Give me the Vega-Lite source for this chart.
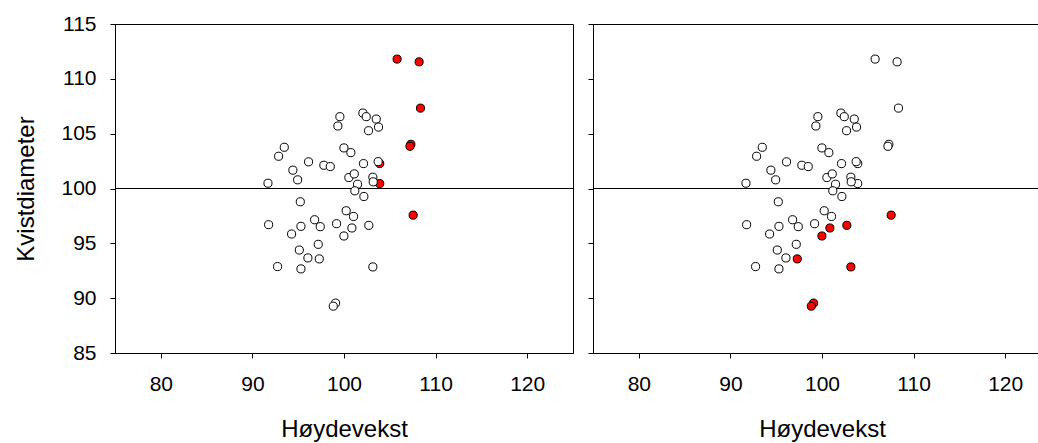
{
  "$schema": "https://vega.github.io/schema/vega-lite/v6.json",
  "padding": {"left": 14, "top": 12, "right": 0, "bottom": 0},
  "autosize": {"type": "pad"},
  "background": "white",
  "config": {
    "view": {"stroke": "black", "strokeWidth": 1},
    "axis": {
      "domainColor": "black", "tickColor": "black", "labelColor": "black", "titleColor": "black",
      "labelFont": "Liberation Sans", "titleFont": "Liberation Sans",
      "labelFontSize": 21, "titleFontSize": 24, "titleFontWeight": "normal",
      "grid": false, "tickSize": 5, "domainWidth": 1, "tickWidth": 1
    },
    "axisX": {"labelPadding": 15, "titlePadding": 23},
    "axisY": {"labelPadding": 14, "titlePadding": 22}
  },
  "data": {"values": [
    {"x": 105.8, "y": 111.8, "a": "r", "b": "n"},
    {"x": 108.2, "y": 111.55, "a": "r", "b": "n"},
    {"x": 108.35, "y": 107.33, "a": "r", "b": "n"},
    {"x": 107.3, "y": 104.03, "a": "r", "b": "n"},
    {"x": 107.2, "y": 103.85, "a": "r", "b": "n"},
    {"x": 103.9, "y": 102.27, "a": "r", "b": "n"},
    {"x": 103.9, "y": 100.45, "a": "r", "b": "n"},
    {"x": 107.55, "y": 97.57, "a": "r", "b": "r"},
    {"x": 99.55, "y": 106.55, "a": "n", "b": "n"},
    {"x": 99.33, "y": 105.7, "a": "n", "b": "n"},
    {"x": 102.06, "y": 106.88, "a": "n", "b": "n"},
    {"x": 102.43, "y": 106.55, "a": "n", "b": "n"},
    {"x": 103.52, "y": 106.33, "a": "n", "b": "n"},
    {"x": 103.77, "y": 105.6, "a": "n", "b": "n"},
    {"x": 102.68, "y": 105.27, "a": "n", "b": "n"},
    {"x": 93.48, "y": 103.76, "a": "n", "b": "n"},
    {"x": 92.86, "y": 102.94, "a": "n", "b": "n"},
    {"x": 99.99, "y": 103.7, "a": "n", "b": "n"},
    {"x": 100.75, "y": 103.27, "a": "n", "b": "n"},
    {"x": 96.13, "y": 102.43, "a": "n", "b": "n"},
    {"x": 97.8, "y": 102.12, "a": "n", "b": "n"},
    {"x": 98.5, "y": 102.0, "a": "n", "b": "n"},
    {"x": 102.13, "y": 102.27, "a": "n", "b": "n"},
    {"x": 103.73, "y": 102.45, "a": "n", "b": "n"},
    {"x": 94.42, "y": 101.67, "a": "n", "b": "n"},
    {"x": 94.94, "y": 100.79, "a": "n", "b": "n"},
    {"x": 91.7, "y": 100.48, "a": "n", "b": "n"},
    {"x": 100.53, "y": 101.0, "a": "n", "b": "n"},
    {"x": 101.12, "y": 101.33, "a": "n", "b": "n"},
    {"x": 101.48, "y": 100.39, "a": "n", "b": "n"},
    {"x": 103.15, "y": 101.03, "a": "n", "b": "n"},
    {"x": 103.19, "y": 100.61, "a": "n", "b": "n"},
    {"x": 101.18, "y": 99.79, "a": "n", "b": "n"},
    {"x": 102.17, "y": 99.27, "a": "n", "b": "n"},
    {"x": 95.23, "y": 98.79, "a": "n", "b": "n"},
    {"x": 100.24, "y": 97.97, "a": "n", "b": "n"},
    {"x": 101.04, "y": 97.45, "a": "n", "b": "n"},
    {"x": 96.79, "y": 97.15, "a": "n", "b": "n"},
    {"x": 91.77, "y": 96.7, "a": "n", "b": "n"},
    {"x": 95.3, "y": 96.55, "a": "n", "b": "n"},
    {"x": 97.41, "y": 96.52, "a": "n", "b": "n"},
    {"x": 99.19, "y": 96.79, "a": "n", "b": "n"},
    {"x": 102.71, "y": 96.64, "a": "n", "b": "r"},
    {"x": 100.86, "y": 96.4, "a": "n", "b": "r"},
    {"x": 94.28, "y": 95.85, "a": "n", "b": "n"},
    {"x": 99.99, "y": 95.67, "a": "n", "b": "r"},
    {"x": 97.19, "y": 94.91, "a": "n", "b": "n"},
    {"x": 95.12, "y": 94.39, "a": "n", "b": "n"},
    {"x": 96.06, "y": 93.67, "a": "n", "b": "n"},
    {"x": 97.3, "y": 93.58, "a": "n", "b": "r"},
    {"x": 92.75, "y": 92.88, "a": "n", "b": "n"},
    {"x": 95.3, "y": 92.67, "a": "n", "b": "n"},
    {"x": 103.15, "y": 92.85, "a": "n", "b": "r"},
    {"x": 99.08, "y": 89.55, "a": "n", "b": "r"},
    {"x": 98.83, "y": 89.27, "a": "n", "b": "r"}
  ]},
  "spacing": 13,
  "hconcat": [
    {
      "width": 458, "height": 329,
      "layer": [
        {
          "mark": {"type": "rule", "color": "black", "strokeWidth": 1},
          "encoding": {"y": {"datum": 100, "type": "quantitative", "scale": {"domain": [85, 115], "nice": false, "zero": false}, "axis": {"title": "Kvistdiameter", "values": [85, 90, 95, 100, 105, 110, 115]}}}
        },
        {
          "mark": {"type": "point", "shape": "circle", "filled": true, "size": 66, "stroke": "black", "strokeWidth": 1, "opacity": 1},
          "encoding": {
            "x": {"field": "x", "type": "quantitative", "scale": {"domain": [75, 125], "nice": false, "zero": false}, "axis": {"title": "Høydevekst", "values": [80, 90, 100, 110, 120]}},
            "y": {"field": "y", "type": "quantitative", "scale": {"domain": [85, 115], "nice": false, "zero": false}, "axis": {"title": "Kvistdiameter", "values": [85, 90, 95, 100, 105, 110, 115]}},
            "fill": {"field": "a", "type": "nominal", "scale": {"domain": ["n", "r"], "range": ["white", "#ff0000"]}, "legend": null}
          }
        }
      ]
    },
    {
      "width": 458, "height": 329,
      "layer": [
        {
          "mark": {"type": "rule", "color": "black", "strokeWidth": 1},
          "encoding": {"y": {"datum": 100, "type": "quantitative", "scale": {"domain": [85, 115], "nice": false, "zero": false}, "axis": {"title": null, "labels": false, "values": [85, 90, 95, 100, 105, 110, 115]}}}
        },
        {
          "mark": {"type": "point", "shape": "circle", "filled": true, "size": 66, "stroke": "black", "strokeWidth": 1, "opacity": 1},
          "encoding": {
            "x": {"field": "x", "type": "quantitative", "scale": {"domain": [75, 125], "nice": false, "zero": false}, "axis": {"title": "Høydevekst", "values": [80, 90, 100, 110, 120]}},
            "y": {"field": "y", "type": "quantitative", "scale": {"domain": [85, 115], "nice": false, "zero": false}, "axis": {"title": null, "labels": false, "values": [85, 90, 95, 100, 105, 110, 115]}},
            "fill": {"field": "b", "type": "nominal", "scale": {"domain": ["n", "r"], "range": ["white", "#ff0000"]}, "legend": null}
          }
        }
      ]
    }
  ]
}
